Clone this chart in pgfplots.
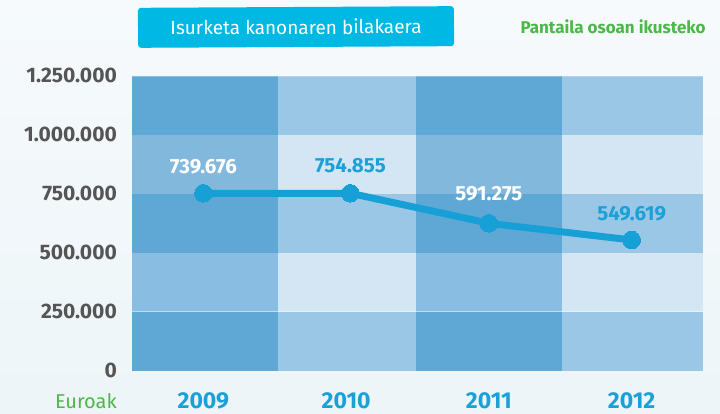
\documentclass[border=0pt]{standalone}
\usepackage{fontspec}
\setmainfont{Fira Sans}
\usepackage{pgfplots}
\pgfplotsset{compat=1.18}
\definecolor{cDark}{HTML}{5FA8D5}
\definecolor{cMedA}{HTML}{83B8DD}
\definecolor{cMedB}{HTML}{89BEE2}
\definecolor{cLight}{HTML}{9AC7E6}
\definecolor{cVLight}{HTML}{D4E6F4}
\definecolor{lineC}{HTML}{17A0D6}
\definecolor{tickC}{HTML}{1BA0D8}
\definecolor{titleC}{HTML}{00B8E4}
\definecolor{greenC}{HTML}{4CB848}
\definecolor{grayC}{HTML}{555555}
\definecolor{bgTop}{HTML}{F6FAFC}
\definecolor{bgBot}{HTML}{EDF5F8}
\begin{document}
\begin{tikzpicture}
\useasboundingbox (0pt,0pt) rectangle (720pt,414pt);
\shade[top color=bgTop, bottom color=bgBot] (0pt,0pt) rectangle (720pt,414pt);
\node[fill=titleC, rounded corners=3pt, minimum width=316pt, minimum height=40pt, inner sep=0pt, rotate=0.3, text=white, font=\fontsize{19}{22}\selectfont] at (296pt,387pt) {Isurketa kanonaren bilakaera};
\node[anchor=base, inner sep=0pt, text=greenC, font=\fontsize{17}{20}\selectfont\bfseries] at (613pt,380.7pt) {Pantaila osoan ikusteko};
\node[anchor=base east, text=greenC, font=\fontsize{20}{24}\selectfont, inner sep=0pt] at (117pt,5.7pt) {Euroak};
\begin{axis}[
  at={(132pt,43.3pt)}, anchor=south west,
  width=571pt, height=295pt, scale only axis,
  xmin=-0.5, xmax=3.5, ymin=0, ymax=1250000,
  axis line style={draw=none},
  major tick length=0pt,
  xtick={0,1,2,3}, xticklabels={2009,2010,2011,2012},
  ytick={0,250000,500000,750000,1000000,1250000},
  yticklabels={0,250.000,500.000,750.000,1.000.000,1.250.000},
  scaled y ticks=false,
  /pgf/number format/assume math mode=true,
  xticklabel style={anchor=base, yshift=-38pt, inner sep=0pt, text=tickC, font=\fontsize{23}{27}\selectfont\bfseries},
  yticklabel style={anchor=east, xshift=-15pt, inner sep=0pt, text=grayC, font=\fontsize{21}{25}\selectfont\bfseries},
]
% column 1 and 3
\fill[cDark]  (axis cs:-0.5,0) rectangle (axis cs:0.52,250000);
\fill[cMedB]  (axis cs:-0.5,250000) rectangle (axis cs:0.52,500000);
\fill[cDark]  (axis cs:-0.5,500000) rectangle (axis cs:0.52,750000);
\fill[cMedA]  (axis cs:-0.5,750000) rectangle (axis cs:0.52,1000000);
\fill[cDark]  (axis cs:-0.5,1000000) rectangle (axis cs:0.52,1250000);
\fill[cDark]  (axis cs:1.49,0) rectangle (axis cs:2.51,250000);
\fill[cMedB]  (axis cs:1.49,250000) rectangle (axis cs:2.51,500000);
\fill[cDark]  (axis cs:1.49,500000) rectangle (axis cs:2.51,750000);
\fill[cMedA]  (axis cs:1.49,750000) rectangle (axis cs:2.51,1000000);
\fill[cDark]  (axis cs:1.49,1000000) rectangle (axis cs:2.51,1250000);
% column 2 and 4
\fill[cLight]  (axis cs:0.52,0) rectangle (axis cs:1.49,250000);
\fill[cVLight] (axis cs:0.52,250000) rectangle (axis cs:1.49,500000);
\fill[cLight]  (axis cs:0.52,500000) rectangle (axis cs:1.49,750000);
\fill[cVLight] (axis cs:0.52,750000) rectangle (axis cs:1.49,1000000);
\fill[cLight]  (axis cs:0.52,1000000) rectangle (axis cs:1.49,1250000);
\fill[cLight]  (axis cs:2.51,0) rectangle (axis cs:3.5,250000);
\fill[cVLight] (axis cs:2.51,250000) rectangle (axis cs:3.5,500000);
\fill[cLight]  (axis cs:2.51,500000) rectangle (axis cs:3.5,750000);
\fill[cVLight] (axis cs:2.51,750000) rectangle (axis cs:3.5,1000000);
\fill[cLight]  (axis cs:2.51,1000000) rectangle (axis cs:3.5,1250000);
% faint row separators
\draw[white, opacity=0.45, line width=0.8pt] (axis cs:-0.5,250000) -- (axis cs:3.5,250000);
\draw[white, opacity=0.25, line width=0.8pt] (axis cs:-0.5,1248000) -- (axis cs:3.5,1248000);
\addplot[color=lineC, line width=7pt, mark=*, mark size=8.8pt, mark options={fill=lineC, draw=lineC, line width=0pt}]
  coordinates {(0,751700) (1.03,751700) (2,624600) (3,553800)};
\node[text=white, font=\fontsize{20.5}{24}\selectfont\bfseries] at (axis cs:0,863100) {739.676};
\node[text=tickC, font=\fontsize{20.5}{24}\selectfont\bfseries] at (axis cs:1.03,867400) {754.855};
\node[text=white, font=\fontsize{20.5}{24}\selectfont\bfseries] at (axis cs:2,748700) {591.275};
\node[text=tickC, font=\fontsize{20.5}{24}\selectfont\bfseries] at (axis cs:3,667000) {549.619};
\end{axis}
\end{tikzpicture}
\end{document}
